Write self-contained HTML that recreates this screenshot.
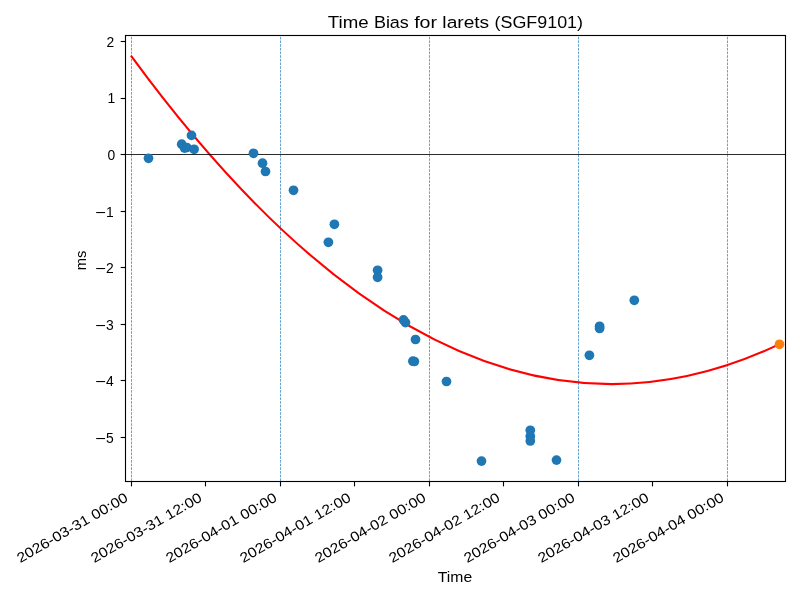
<!DOCTYPE html><html><head><meta charset="utf-8"><title>Time Bias for larets (SGF9101)</title><style>html,body{margin:0;padding:0;background:#fff;overflow:hidden;}svg{display:block;will-change:transform;}text{font-family:"Liberation Sans",sans-serif;fill:#000;}</style></head><body>
<svg width="800" height="600" viewBox="0 0 800 600">
<rect x="0" y="0" width="800" height="600" fill="#fff"/>
<g id="plot">
<line x1="131.5" y1="481" x2="131.5" y2="35" stroke="#1f77b4" stroke-width="0.694" stroke-dasharray="2.57 1.11"/>
<line x1="280.5" y1="481" x2="280.5" y2="35" stroke="#1f77b4" stroke-width="0.694" stroke-dasharray="2.57 1.11"/>
<line x1="429.5" y1="481" x2="429.5" y2="35" stroke="#1f77b4" stroke-width="0.694" stroke-dasharray="2.57 1.11"/>
<line x1="578.5" y1="481" x2="578.5" y2="35" stroke="#1f77b4" stroke-width="0.694" stroke-dasharray="2.57 1.11"/>
<line x1="727.5" y1="481" x2="727.5" y2="35" stroke="#1f77b4" stroke-width="0.694" stroke-dasharray="2.57 1.11"/>
<path d="M131.5,56.43 C347.5,351.52 563.5,446.89 779.5,344.12" fill="none" stroke="#f00" stroke-width="2.083" stroke-linecap="square"/>
<line x1="125.5" y1="154.5" x2="785.5" y2="154.5" stroke="#000" stroke-width="0.833"/>
<circle cx="148.5" cy="158.3" r="4.86" fill="#1f77b4"/>
<circle cx="181.7" cy="144.2" r="4.86" fill="#1f77b4"/>
<circle cx="184.6" cy="148.1" r="4.86" fill="#1f77b4"/>
<circle cx="186.8" cy="147.5" r="4.86" fill="#1f77b4"/>
<circle cx="194.1" cy="149.3" r="4.86" fill="#1f77b4"/>
<circle cx="191.5" cy="135.4" r="4.86" fill="#1f77b4"/>
<circle cx="253.5" cy="153.3" r="4.86" fill="#1f77b4"/>
<circle cx="262.5" cy="163.2" r="4.86" fill="#1f77b4"/>
<circle cx="265.5" cy="171.5" r="4.86" fill="#1f77b4"/>
<circle cx="293.5" cy="190.3" r="4.86" fill="#1f77b4"/>
<circle cx="334.4" cy="224.3" r="4.86" fill="#1f77b4"/>
<circle cx="328.4" cy="242.3" r="4.86" fill="#1f77b4"/>
<circle cx="377.6" cy="270.3" r="4.86" fill="#1f77b4"/>
<circle cx="377.6" cy="277.3" r="4.86" fill="#1f77b4"/>
<circle cx="403.5" cy="319.9" r="4.86" fill="#1f77b4"/>
<circle cx="405.5" cy="322.6" r="4.86" fill="#1f77b4"/>
<circle cx="415.5" cy="339.5" r="4.86" fill="#1f77b4"/>
<circle cx="412.9" cy="361.2" r="4.86" fill="#1f77b4"/>
<circle cx="414.4" cy="361.5" r="4.86" fill="#1f77b4"/>
<circle cx="446.5" cy="381.5" r="4.86" fill="#1f77b4"/>
<circle cx="481.5" cy="461.1" r="4.86" fill="#1f77b4"/>
<circle cx="530.3" cy="430.3" r="4.86" fill="#1f77b4"/>
<circle cx="530.3" cy="436.3" r="4.86" fill="#1f77b4"/>
<circle cx="530.3" cy="441.0" r="4.86" fill="#1f77b4"/>
<circle cx="556.5" cy="460.1" r="4.86" fill="#1f77b4"/>
<circle cx="589.4" cy="355.3" r="4.86" fill="#1f77b4"/>
<circle cx="599.6" cy="326.25" r="4.86" fill="#1f77b4"/>
<circle cx="599.6" cy="328.5" r="4.86" fill="#1f77b4"/>
<circle cx="634.3" cy="300.3" r="4.86" fill="#1f77b4"/>
<circle cx="779.5" cy="344.3" r="4.86" fill="#ff7f0e"/>
<rect x="125.5" y="35.5" width="660.0" height="446.0" fill="none" stroke="#000" stroke-width="1.11"/>
<line x1="120.64" y1="437.5" x2="125.5" y2="437.5" stroke="#000" stroke-width="1.11"/>
<line x1="120.64" y1="380.5" x2="125.5" y2="380.5" stroke="#000" stroke-width="1.11"/>
<line x1="120.64" y1="324.5" x2="125.5" y2="324.5" stroke="#000" stroke-width="1.11"/>
<line x1="120.64" y1="267.5" x2="125.5" y2="267.5" stroke="#000" stroke-width="1.11"/>
<line x1="120.64" y1="211.5" x2="125.5" y2="211.5" stroke="#000" stroke-width="1.11"/>
<line x1="120.64" y1="154.5" x2="125.5" y2="154.5" stroke="#000" stroke-width="1.11"/>
<line x1="120.64" y1="98.5" x2="125.5" y2="98.5" stroke="#000" stroke-width="1.11"/>
<line x1="120.64" y1="41.5" x2="125.5" y2="41.5" stroke="#000" stroke-width="1.11"/>
<line x1="131.5" y1="481.5" x2="131.5" y2="486.36" stroke="#000" stroke-width="1.11"/>
<line x1="205.5" y1="481.5" x2="205.5" y2="486.36" stroke="#000" stroke-width="1.11"/>
<line x1="280.5" y1="481.5" x2="280.5" y2="486.36" stroke="#000" stroke-width="1.11"/>
<line x1="354.5" y1="481.5" x2="354.5" y2="486.36" stroke="#000" stroke-width="1.11"/>
<line x1="429.5" y1="481.5" x2="429.5" y2="486.36" stroke="#000" stroke-width="1.11"/>
<line x1="503.5" y1="481.5" x2="503.5" y2="486.36" stroke="#000" stroke-width="1.11"/>
<line x1="578.5" y1="481.5" x2="578.5" y2="486.36" stroke="#000" stroke-width="1.11"/>
<line x1="652.5" y1="481.5" x2="652.5" y2="486.36" stroke="#000" stroke-width="1.11"/>
<line x1="727.5" y1="481.5" x2="727.5" y2="486.36" stroke="#000" stroke-width="1.11"/>
</g>
<rect x="96.2" y="438.02" width="8.9" height="1.06" fill="#000"/>
<text id="yt0" x="113.7" y="442.95" font-size="13.89" text-anchor="end">5</text>
<rect x="96.2" y="381.02" width="8.9" height="1.06" fill="#000"/>
<text id="yt1" x="113.7" y="385.95" font-size="13.89" text-anchor="end">4</text>
<rect x="96.2" y="325.02" width="8.9" height="1.06" fill="#000"/>
<text id="yt2" x="113.7" y="329.85" font-size="13.89" text-anchor="end">3</text>
<rect x="96.2" y="268.02" width="8.9" height="1.06" fill="#000"/>
<text id="yt3" x="113.7" y="272.95" font-size="13.89" text-anchor="end">2</text>
<rect x="96.2" y="212.02" width="8.9" height="1.06" fill="#000"/>
<text id="yt4" x="113.7" y="216.95" font-size="13.89" text-anchor="end">1</text>
<text id="yt5" x="115.3" y="159.95" font-size="13.89" text-anchor="end" textLength="7.72" lengthAdjust="spacingAndGlyphs">0</text>
<text id="yt6" x="115.3" y="102.95" font-size="13.89" text-anchor="end" textLength="7.72" lengthAdjust="spacingAndGlyphs">1</text>
<text id="yt7" x="114.3" y="46.95" font-size="13.89" text-anchor="end" textLength="7.72" lengthAdjust="spacingAndGlyphs">2</text>
<text id="xt0" transform="translate(129,500.3) rotate(-30)" font-size="13.89" text-anchor="end" textLength="125.73" lengthAdjust="spacingAndGlyphs">2026-03-31 00:00</text>
<text id="xt1" transform="translate(203,500.3) rotate(-30)" font-size="13.89" text-anchor="end" textLength="125.73" lengthAdjust="spacingAndGlyphs">2026-03-31 12:00</text>
<text id="xt2" transform="translate(278,500.3) rotate(-30)" font-size="13.89" text-anchor="end" textLength="125.73" lengthAdjust="spacingAndGlyphs">2026-04-01 00:00</text>
<text id="xt3" transform="translate(352,500.3) rotate(-30)" font-size="13.89" text-anchor="end" textLength="125.73" lengthAdjust="spacingAndGlyphs">2026-04-01 12:00</text>
<text id="xt4" transform="translate(427,500.3) rotate(-30)" font-size="13.89" text-anchor="end" textLength="125.73" lengthAdjust="spacingAndGlyphs">2026-04-02 00:00</text>
<text id="xt5" transform="translate(501,500.3) rotate(-30)" font-size="13.89" text-anchor="end" textLength="125.73" lengthAdjust="spacingAndGlyphs">2026-04-02 12:00</text>
<text id="xt6" transform="translate(576,500.3) rotate(-30)" font-size="13.89" text-anchor="end" textLength="125.73" lengthAdjust="spacingAndGlyphs">2026-04-03 00:00</text>
<text id="xt7" transform="translate(650,500.3) rotate(-30)" font-size="13.89" text-anchor="end" textLength="125.73" lengthAdjust="spacingAndGlyphs">2026-04-03 12:00</text>
<text id="xt8" transform="translate(725,500.3) rotate(-30)" font-size="13.89" text-anchor="end" textLength="125.73" lengthAdjust="spacingAndGlyphs">2026-04-04 00:00</text>
<text x="327.81" y="27.8" font-size="16.67" textLength="40.8" lengthAdjust="spacingAndGlyphs">Time</text>
<text x="373.90" y="27.8" font-size="16.67" textLength="34.97" lengthAdjust="spacingAndGlyphs">Bias</text>
<text x="414.17" y="27.8" font-size="16.67" textLength="22.92" lengthAdjust="spacingAndGlyphs">for</text>
<text x="442.39" y="27.8" font-size="16.67" textLength="46.81" lengthAdjust="spacingAndGlyphs">larets</text>
<text x="494.50" y="27.8" font-size="16.67" textLength="88.52" lengthAdjust="spacingAndGlyphs">(SGF9101)</text>
<text id="xlabel" x="455" y="582" font-size="13.89" text-anchor="middle" textLength="34.33" lengthAdjust="spacingAndGlyphs">Time</text>
<text id="ylabel" transform="translate(86,260.4) rotate(-90)" font-size="13.89" text-anchor="middle" textLength="19.5" lengthAdjust="spacingAndGlyphs">ms</text>
</svg></body></html>
